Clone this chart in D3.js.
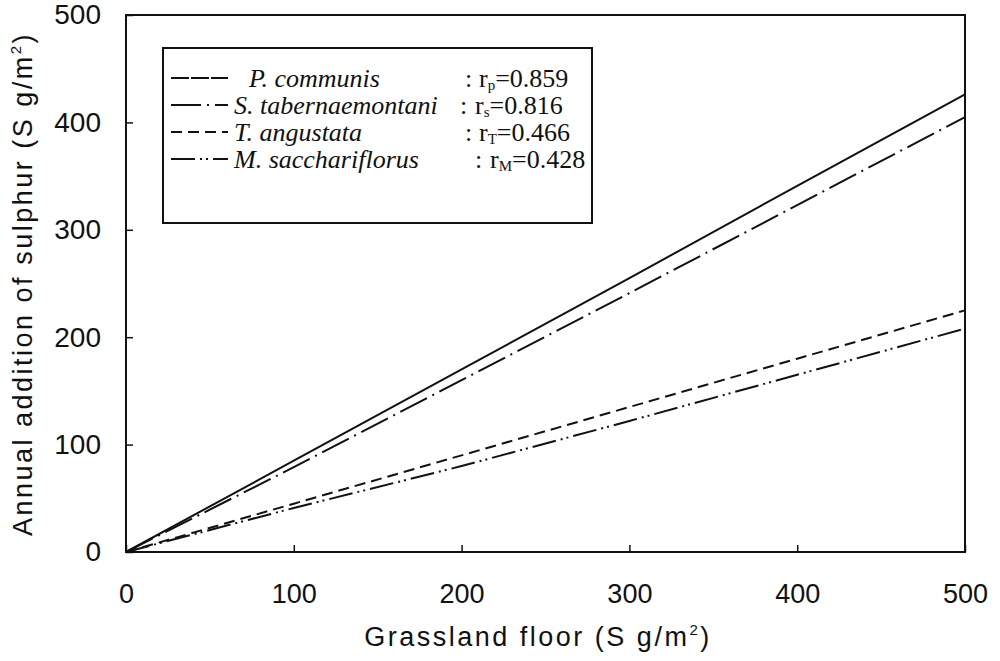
<!DOCTYPE html>
<html lang="en">
<head>
<meta charset="UTF-8">
<title>Sulphur</title>
<style>
    body { margin: 0; background: #fff; }
    .tick text { font-family: "Liberation Sans", Arial, sans-serif; font-size: 27px; fill: #111; }
    .title { font-family: "Liberation Sans", Arial, sans-serif; font-size: 27px; fill: #111; letter-spacing: 2.5px; }
    .leg text { font-family: "Liberation Serif", "DejaVu Serif", serif; font-size: 26px; fill: #111; }
</style>
</head>
<body>
<svg id="chart" width="1000" height="661"></svg>
<script src="https://cdn.jsdelivr.net/npm/d3@7"></script>
<script>
    // values at x = 0..500
    var xs = [0, 100, 200, 300, 400, 500];
    var communis = [0, 85, 170, 255, 341, 426];
    var tabernaemontani = [0, 79, 160, 241, 323, 405];
    var angustata = [0, 45, 90, 135, 180, 225];
    var sacchariflorus = [0, 41, 80, 122, 165, 208];

    var names = ["P. communis", "S. tabernaemontani", "T. angustata", "M. sacchariflorus"];
    var rSubs = ["p", "s", "T", "M"];
    var rValues = ["0.859", "0.816", "0.466", "0.428"];
    var dashes = [null, "30,6,2,6", "11,6", "24,5,2,4,2,5"];
    var ticks = [0, 100, 200, 300, 400, 500];

    var series = [communis, tabernaemontani, angustata, sacchariflorus];

    var svg = d3.select("#chart");
    var m = {left: 126, right: 965, top: 15, bottom: 552};

    var x = d3.scaleLinear().domain([0, 500]).range([m.left, m.right]);
    var y = d3.scaleLinear().domain([0, 500]).range([m.bottom, m.top]);

    // frame
    svg.append("rect")
        .attr("x", m.left).attr("y", m.top)
        .attr("width", m.right - m.left).attr("height", m.bottom - m.top)
        .attr("fill", "none").attr("stroke", "#111").attr("stroke-width", 2);

    var xAxis = svg.append("g")
        .attr("transform", "translate(0," + m.bottom + ")")
        .call(d3.axisBottom(x).tickValues(ticks).tickSizeInner(-7).tickSizeOuter(0));
    xAxis.select(".domain").remove();
    xAxis.selectAll("line").attr("stroke", "#111").attr("stroke-width", 1.5);
    xAxis.selectAll("text").attr("y", 32).attr("dy", "0.71em");

    var yAxis = svg.append("g")
        .attr("transform", "translate(" + m.left + ",0)")
        .call(d3.axisLeft(y).tickValues(ticks).tickSizeInner(-7).tickSizeOuter(0));
    yAxis.select(".domain").remove();
    yAxis.selectAll("line").attr("stroke", "#111").attr("stroke-width", 1.5);
    yAxis.selectAll("text").attr("x", -25).style("font-size", "28px");

    var line = d3.line()
        .x(function(d, i) { return x(xs[i]); })
        .y(function(d) { return y(d); });

    svg.selectAll(".series")
        .data(series)
        .enter()
        .append("path")
        .attr("class", "series")
        .attr("d", line)
        .attr("fill", "none")
        .attr("stroke", "#111")
        .attr("stroke-width", 2)
        .attr("stroke-dasharray", function(d, i) { return dashes[i]; });

    // axis titles
    var xt = svg.append("text").attr("class", "title")
        .attr("x", 538).attr("y", 646)
        .attr("text-anchor", "middle");
    xt.append("tspan").text("Grassland floor  (S g/m");
    xt.append("tspan").attr("dy", -11).attr("font-size", 15).text("2");
    xt.append("tspan").attr("dy", 11).text(")");

    var yt = svg.append("text").attr("class", "title")
        .attr("transform", "translate(32,284) rotate(-90)")
        .attr("text-anchor", "middle");
    yt.append("tspan").text("Annual addition of sulphur  (S g/m");
    yt.append("tspan").attr("dy", -11).attr("font-size", 15).text("2");
    yt.append("tspan").attr("dy", 11).text(")");

    // legend
    var leg = svg.append("g").attr("class", "leg");
    leg.append("rect")
        .attr("x", 163).attr("y", 48).attr("width", 429).attr("height", 175)
        .attr("fill", "#fff").attr("stroke", "#111").attr("stroke-width", 2);

    var rows = leg.selectAll(".row")
        .data(names)
        .enter()
        .append("g")
        .attr("class", "row")
        .attr("transform", function(d, i) { return "translate(0," + (78 + i * 27) + ")"; });

    rows.append("line")
        .attr("x1", 171).attr("x2", 228).attr("y1", 0).attr("y2", 0)
        .attr("stroke", "#111").attr("stroke-width", 2)
        .attr("stroke-dasharray", function(d, i) { return dashes[i] ? dashes[i] : "18,2"; });

    rows.append("text")
        .attr("x", function(d, i) { return i === 0 ? 249 : 234; })
        .attr("y", 9)
        .attr("font-style", "italic")
        .text(function(d) { return d; });

    rows.append("text")
        .attr("x", function(d, i) { return [465, 460, 465, 475][i]; })
        .attr("y", 9)
        .text(":");

    var rt = rows.append("text")
        .attr("x", function(d, i) { return [479, 475, 479, 490][i]; })
        .attr("y", 9);
    rt.append("tspan").text("r");
    rt.append("tspan").attr("font-size", 15).attr("dy", 3)
        .text(function(d, i) { return rSubs[i]; });
    rt.append("tspan").attr("dy", -3)
        .text(function(d, i) { return "=" + rValues[i]; });
</script>
</body>
</html>
